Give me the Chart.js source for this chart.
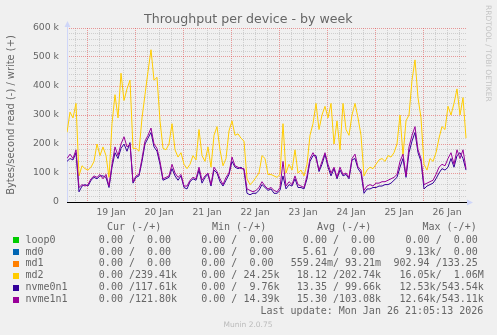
<!DOCTYPE html>
<html>
<head>
<meta charset="utf-8">
<script src="https://cdn.jsdelivr.net/npm/chart.js@4.4.1/dist/chart.umd.min.js"></script>
<style>
html,body{margin:0;padding:0;background:#F0F0F0;}
canvas{display:block;}
</style>
</head>
<body>
<canvas id="c" width="497" height="335"></canvas>
<script>
// ---- data ----
const chartTitle = 'Throughput per device - by week';
const yAxisTitle = 'Bytes/second read (-) / write (+)';
const dayLabels = ['19 Jan','20 Jan','21 Jan','22 Jan','23 Jan','24 Jan','25 Jan','26 Jan'];
const yTickLabels = ['0','100 k','200 k','300 k','400 k','500 k','600 k'];
// samples: hours since 18 Jan 00:00, one every 1.5 h
const startHour = 14;
const stepHours = 1.5;
const endHour = 214;

// write throughput (k bytes/s)
const md2Write = [
  240,310,290,340,90,125,115,110,120,140,
  200,160,190,160,85,270,370,290,444,350,
  390,420,185,185,175,290,370,450,525,420,
  430,280,185,180,200,270,180,155,170,130,
  115,130,160,145,250,160,140,190,120,230,
  260,180,125,150,245,280,230,235,220,210,
  80,60,70,85,100,160,150,95,95,90,
  85,95,270,100,130,110,180,100,110,90,
  130,230,270,340,250,300,330,290,340,200,
  280,180,340,250,230,300,340,290,230,90,
  110,120,115,130,145,150,140,160,155,170,
  200,300,160,280,300,420,490,360,290,130,
  110,150,140,170,220,260,250,330,300,340,
  390,300,360,220
];
const nvme0n1Write = [
  140,150,145,170,35,55,60,55,75,85,
  80,90,90,85,50,120,170,150,185,200,
  175,205,65,85,90,140,200,220,240,190,
  175,130,75,80,85,115,90,75,90,50,
  45,70,80,75,110,65,85,95,55,110,
  100,70,55,75,95,140,120,115,120,110,
  30,25,30,30,40,60,50,40,45,30,
  30,40,90,45,60,55,80,50,50,45,
  80,140,160,160,105,130,165,120,90,115,
  80,110,90,95,80,145,150,115,100,30,
  45,45,50,50,55,55,60,60,65,75,
  85,120,150,85,170,210,240,170,140,45,
  55,60,65,80,100,115,110,120,150,120,
  160,170,150,110
];
const nvme1n1Write = [
  150,165,150,180,50,60,55,60,80,90,
  85,95,80,95,55,130,190,160,200,225,
  190,200,70,90,95,150,210,230,255,200,
  185,140,80,85,90,130,100,85,95,55,
  55,75,85,80,120,75,90,100,60,120,
  105,80,60,85,100,155,125,120,115,115,
  45,40,35,40,50,70,55,45,50,40,
  35,50,140,55,70,60,90,60,55,50,
  90,150,170,150,110,140,170,130,100,120,
  85,120,95,100,85,150,165,120,110,40,
  55,60,55,65,65,70,70,75,80,85,
  95,140,165,90,190,230,260,180,150,60,
  65,70,75,95,120,130,125,150,170,130,
  180,150,180,115
];

// legend table
const deviceNames = ['loop0','md0','md1','md2','nvme0n1','nvme1n1'];
const deviceColors = ['#00CC00','#0066B3','#FF8000','#FFCC00','#330099','#990099'];
const legendHeaders = ['Cur (-/+)','Min (-/+)','Avg (-/+)','Max (-/+)'];
const curValues = ['  0.00 /  0.00 ','  0.00 /  0.00 ','  0.00 /  0.00 ','  0.00 /239.41k','  0.00 /117.61k','  0.00 /121.80k'];
const minValues = ['  0.00 /  0.00 ','  0.00 /  0.00 ','  0.00 /  0.00 ','  0.00 / 24.25k','  0.00 /  9.76k','  0.00 / 14.39k'];
const avgValues = ['  0.00 /  0.00 ','  5.61 /  0.00 ','559.24m/ 93.21m',' 18.12 /202.74k',' 13.35 / 99.66k',' 15.30 /103.08k'];
const maxValues = ['  0.00 /  0.00 ','  9.13k/  0.00 ','902.94 /133.25 ',' 16.05k/  1.06M',' 12.53k/543.54k',' 12.64k/543.11k'];
const lastUpdate = 'Last update: Mon Jan 26 21:05:13 2026';
const versionText = 'Munin 2.0.75';
const creditText = 'RRDTOOL / TOBI OETIKER';

// ---- styling ----
const TEXT = '#666666';
const MAJOR = 'rgba(226,80,80,0.55)';
const MINOR = 'rgba(143,143,143,0.35)';
const AXIS = '#CFD6F8';

const toPoints = vals => vals.map((v, i) => ({x: startHour + i * stepHours, y: v}));

const xTickHours = [];
for (let h = 18; h < endHour; h += 6) xTickHours.push(h);
const yTickValues = [];
for (let v = 0; v <= 600; v += 20) yTickValues.push(v);

const decor = {
  id: 'decor',
  beforeDatasetsDraw(chart) {
    const {ctx, chartArea: a} = chart;
    ctx.save();
    ctx.strokeStyle = AXIS; ctx.fillStyle = AXIS; ctx.lineWidth = 1;
    ctx.beginPath(); ctx.moveTo(a.left + 0.5, a.bottom); ctx.lineTo(a.left + 0.5, a.top - 3); ctx.stroke();
    ctx.beginPath(); ctx.moveTo(a.left - 2.5, a.top - 1); ctx.lineTo(a.left + 3.5, a.top - 1); ctx.lineTo(a.left + 0.5, a.top - 7); ctx.closePath(); ctx.fill();
    ctx.beginPath(); ctx.moveTo(a.right, a.bottom - 2.5); ctx.lineTo(a.right, a.bottom + 3.5); ctx.lineTo(a.right + 6, a.bottom + 0.5); ctx.closePath(); ctx.fill();
    ctx.restore();
  },
  afterDraw(chart) {
    const ctx = chart.ctx;
    ctx.save();
    ctx.fillStyle = TEXT;
    ctx.font = '12.6px "DejaVu Sans"';
    ctx.textAlign = 'center'; ctx.textBaseline = 'alphabetic';
    ctx.fillText(chartTitle, 248.3, 23);

    ctx.font = '10px "DejaVu Sans Mono"';
    ctx.textAlign = 'left'; ctx.textBaseline = 'middle';
    const hx = [107, 212, 317, 422.5];
    legendHeaders.forEach((h, i) => ctx.fillText(h, hx[i], 227.5));
    const cx = [86.8, 189.2, 290.8, 393.5];
    deviceNames.forEach((n, r) => {
      const y = 240 + r * 11.95;
      ctx.fillStyle = deviceColors[r];
      ctx.fillRect(13, Math.round(y) - 3, 6, 6);
      ctx.fillStyle = TEXT;
      ctx.fillText(n, 25.5, y);
      ctx.fillText(curValues[r], cx[0], y);
      ctx.fillText(minValues[r], cx[1], y);
      ctx.fillText(avgValues[r], cx[2], y);
      ctx.fillText(maxValues[r], cx[3], y);
    });
    ctx.fillText(lastUpdate, 260.5, 311);

    ctx.fillStyle = '#BBBBBB';
    ctx.font = '7.5px "DejaVu Sans"';
    ctx.textAlign = 'center';
    ctx.fillText(versionText, 248, 325);

    ctx.translate(488, 5);
    ctx.rotate(Math.PI / 2);
    ctx.textAlign = 'left';
    ctx.fillStyle = '#C4C4C4';
    ctx.fillText(creditText, 0, 0);
    ctx.restore();
  }
};

new Chart(document.getElementById('c'), {
  type: 'line',
  data: {
    datasets: [
      {label: 'md2', data: toPoints(md2Write), borderColor: '#FFCC00', order: 3},
      {label: 'nvme0n1', data: toPoints(nvme0n1Write), borderColor: '#330099', order: 2},
      {label: 'nvme1n1', data: toPoints(nvme1n1Write), borderColor: '#990099', order: 1}
    ]
  },
  options: {
    responsive: false,
    animation: false,
    devicePixelRatio: 1,
    layout: {padding: {top: 28, right: 30, left: 0, bottom: 0}},
    elements: {line: {borderWidth: 1, tension: 0}, point: {radius: 0}},
    plugins: {legend: {display: false}, tooltip: {enabled: false}, title: {display: false}},
    scales: {
      x: {
        type: 'linear', min: startHour, max: endHour,
        afterBuildTicks: s => { s.ticks = xTickHours.map(v => ({value: v})); },
        afterFit: s => { s.height = 133; },
        grid: {color: c => (c.tick && c.tick.value % 24 === 0) ? MAJOR : MINOR, drawTicks: false, lineWidth: 1},
        border: {display: false, dash: [1, 1]},
        ticks: {
          autoSkip: false, maxRotation: 0, padding: 5, color: TEXT,
          font: {family: 'DejaVu Sans', size: 9.3},
          callback: v => ((v - 12) % 24 === 0) ? dayLabels[(v - 36) / 24] : ''
        }
      },
      y: {
        type: 'linear', min: 0, max: 600,
        afterBuildTicks: s => { s.ticks = yTickValues.map(v => ({value: v})); },
        afterFit: s => { s.width = 67; },
        grid: {
          color: c => { const v = c.tick ? c.tick.value : -1; return v === 0 ? '#000000' : (v % 100 === 0 ? MAJOR : MINOR); },
          drawTicks: false, lineWidth: 1
        },
        border: {display: false, dash: c => (c.tick && c.tick.value === 0) ? [] : [1, 1]},
        ticks: {
          autoSkip: false, padding: 8, color: TEXT,
          font: {family: 'DejaVu Sans', size: 9.3},
          callback: v => (v % 100 === 0) ? yTickLabels[v / 100] : ''
        },
        title: {
          display: true, text: yAxisTitle, color: TEXT,
          font: {family: 'DejaVu Sans', size: 9.9},
          padding: {top: 5, bottom: 0}
        }
      }
    }
  },
  plugins: [decor]
});
</script>
</body>
</html>
